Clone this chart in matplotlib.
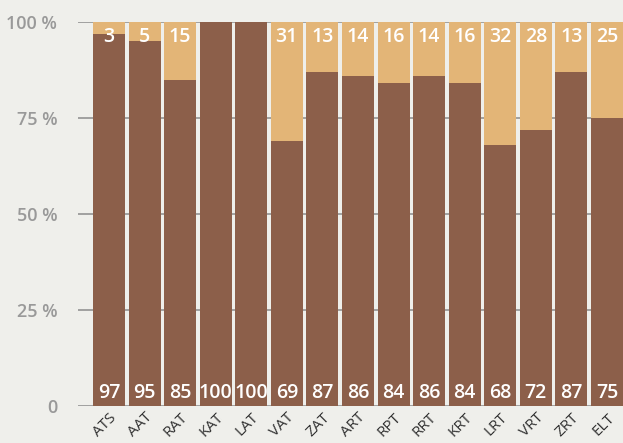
import matplotlib.pyplot as plt
import numpy as np

labels = ['ATS', 'AAT', 'RAT', 'KAT', 'LAT', 'VAT', 'ZAT', 'ART', 'RPT',
          'RRT', 'KRT', 'LRT', 'VRT', 'ZRT', 'ELT']
bottom_vals = [97, 95, 85, 100, 100, 69, 87, 86, 84, 86, 84, 68, 72, 87, 75]
top_vals = [3, 5, 15, 0, 0, 31, 13, 14, 16, 14, 16, 32, 28, 13, 25]

BG = '#efefeb'
BROWN = '#8c5f4a'
TAN = '#e3b577'
GRID = '#9a9a9a'

plt.rcParams['font.family'] = ['Open Sans', 'DejaVu Sans']

fig = plt.figure(figsize=(6.23, 4.43), dpi=100, facecolor=BG)
ax = fig.add_axes([78 / 623, 1 - 406 / 443, 545 / 623, 384 / 443])
ax.set_facecolor(BG)
ax.set_axisbelow(True)

x = np.arange(len(labels))
xmin, xmax = -0.87, len(labels) - 0.55

# horizontal guide lines, drawn under the bars
for yv in [0, 25, 50, 75, 100]:
    ax.plot([xmin, xmax], [yv, yv], color=GRID, linewidth=1.3, zorder=0.5)

ax.bar(x, bottom_vals, width=0.9, color=BROWN, zorder=2)
ax.bar(x, top_vals, width=0.9, bottom=bottom_vals, color=TAN, zorder=2)

for i in range(len(labels)):
    ax.text(x[i], 0.9, str(bottom_vals[i]), color='white', fontsize=14,
            fontweight='semibold', ha='center', va='bottom', zorder=3)
    if top_vals[i] > 0:
        ax.text(x[i], 98.8, str(top_vals[i]), color='white', fontsize=14,
                fontweight='semibold', ha='center', va='top', zorder=3)

ax.set_xlim(xmin, xmax)
ax.set_ylim(0, 100)
ax.set_yticks([0, 25, 50, 75, 100])
ax.set_yticklabels(['0', '25 %', '50 %', '75 %', '100 %'], fontweight='semibold')
ax.tick_params(axis='y', length=0, pad=15, labelsize=13, labelcolor='#999999')
ax.set_xticks(x)
ax.set_xticklabels(labels, rotation=45, ha='right', rotation_mode='anchor',
                   fontsize=11, color='#333333')
ax.tick_params(axis='x', length=0, pad=3)

for s in ax.spines.values():
    s.set_visible(False)

fig.savefig('out.png', dpi=100, facecolor=BG)
